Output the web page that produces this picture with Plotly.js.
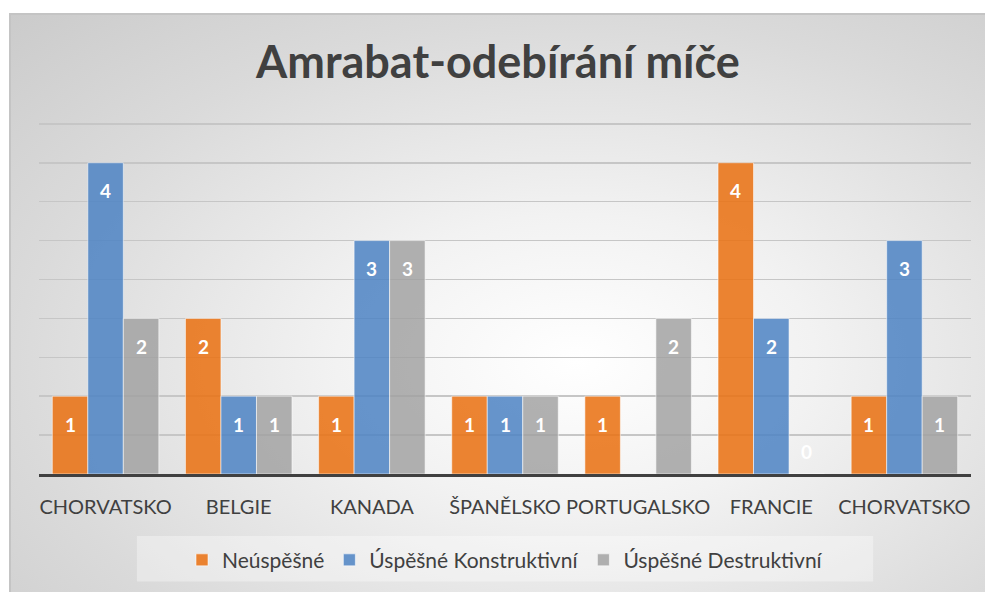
<!DOCTYPE html>
<html>
<head>
<meta charset="utf-8">
<script src="https://cdn.plot.ly/plotly-3.0.1.min.js"></script>
<style>
  html, body { margin: 0; padding: 0; background: #ffffff; width: 985px; height: 592px; overflow: hidden; }
  #frame {
    position: absolute; left: 9px; top: 13px; width: 976px; height: 579px;
    background: radial-gradient(ellipse farthest-corner at 58% 60%, #ffffff 0%, #f2f2f2 30%, #dadada 70%, #cbcbcb 100%);
    border-left: 2px solid #c4c4c4; border-top: 2px solid #c4c4c4; box-sizing: border-box;
  }
  #chart { position: absolute; left: 0; top: 0; width: 974px; height: 577px; }
</style>
</head>
<body>
<div id="frame"><div id="chart"></div></div>
<script>
const categories = ["CHORVATSKO", "BELGIE", "KANADA", "ŠPANĚLSKO", "PORTUGALSKO", "FRANCIE", "CHORVATSKO"];
const neuspesne = [1, 2, 1, 1, 1, 4, 1];
const uspesneKonstruktivni = [4, 1, 3, 1, null, 2, 3];
const uspesneDestruktivni = [2, 1, 3, 1, 2, 0, 1];
const seriesNames = ["Neúspěšné", "Úspěšné Konstruktivní", "Úspěšné Destruktivní"];
const seriesColors = ["rgba(233,115,22,0.88)", "rgba(78,132,196,0.86)", "rgba(160,160,160,0.82)"];

const FONT = "Lato, 'Open Sans', sans-serif";
const idx = categories.map((_, i) => i);
const allSeries = [neuspesne, uspesneKonstruktivni, uspesneDestruktivni];
const bargap = 0.2;
const barW = (1 - bargap) / allSeries.length;

const traces = allSeries.map((vals, k) => ({
  type: "bar",
  name: seriesNames[k],
  x: idx,
  y: vals,
  marker: { color: seriesColors[k], line: { color: "rgba(255,255,255,0.55)", width: 1 } },
  hoverinfo: "skip"
}));

const annotations = [];
allSeries.forEach((vals, k) => {
  vals.forEach((v, i) => {
    if (v === null) return;
    annotations.push({
      x: i + (k - 1) * barW, y: v, xref: "x", yref: "y",
      text: String(v), showarrow: false,
      yshift: v > 0 ? -28 : 23,
      font: { family: FONT, size: 19, color: "#ffffff", weight: "bold" }
    });
  });
});

const layout = {
  width: 974, height: 577,
  margin: { l: 28, r: 14, t: 105, b: 117 },
  paper_bgcolor: "rgba(0,0,0,0)",
  plot_bgcolor: "rgba(0,0,0,0)",
  title: {
    text: "<b>Amrabat-odebírání míče</b>",
    font: { family: FONT, size: 45, color: "#404040" },
    x: 0.5, xanchor: "center", y: 1 - 47 / 577, yanchor: "middle"
  },
  barmode: "group",
  bargap: bargap,
  bargroupgap: 0,
  showlegend: true,
  legend: {
    orientation: "h", x: 0.5, xanchor: "center", y: -0.24, yanchor: "middle",
    bgcolor: "rgba(0,0,0,0)",
    font: { family: FONT, size: 21, color: "#404040" },
    traceorder: "normal"
  },
  shapes: [{
    type: "rect", xref: "paper", yref: "paper", layer: "below",
    x0: 0.105, x1: 0.895, y0: -0.304, y1: -0.175,
    fillcolor: "rgba(255,255,255,0.35)", line: { width: 0 }
  }],
  xaxis: {
    tickvals: idx, ticktext: categories,
    range: [-0.5, categories.length - 0.5],
    showgrid: false, zeroline: false,
    showline: true, linecolor: "#404040", linewidth: 3,
    ticks: "", ticklabelstandoff: 13,
    tickfont: { family: FONT, size: 20, color: "#404040" },
    fixedrange: true
  },
  yaxis: {
    range: [0, 4.55], dtick: 0.5, tick0: 0,
    showticklabels: false, zeroline: false,
    showgrid: true, gridcolor: "#c6c6c6", gridwidth: 1.5,
    fixedrange: true
  },
  annotations: annotations
};

Plotly.newPlot("chart", traces, layout, { displayModeBar: false, staticPlot: true });
</script>
</body>
</html>
